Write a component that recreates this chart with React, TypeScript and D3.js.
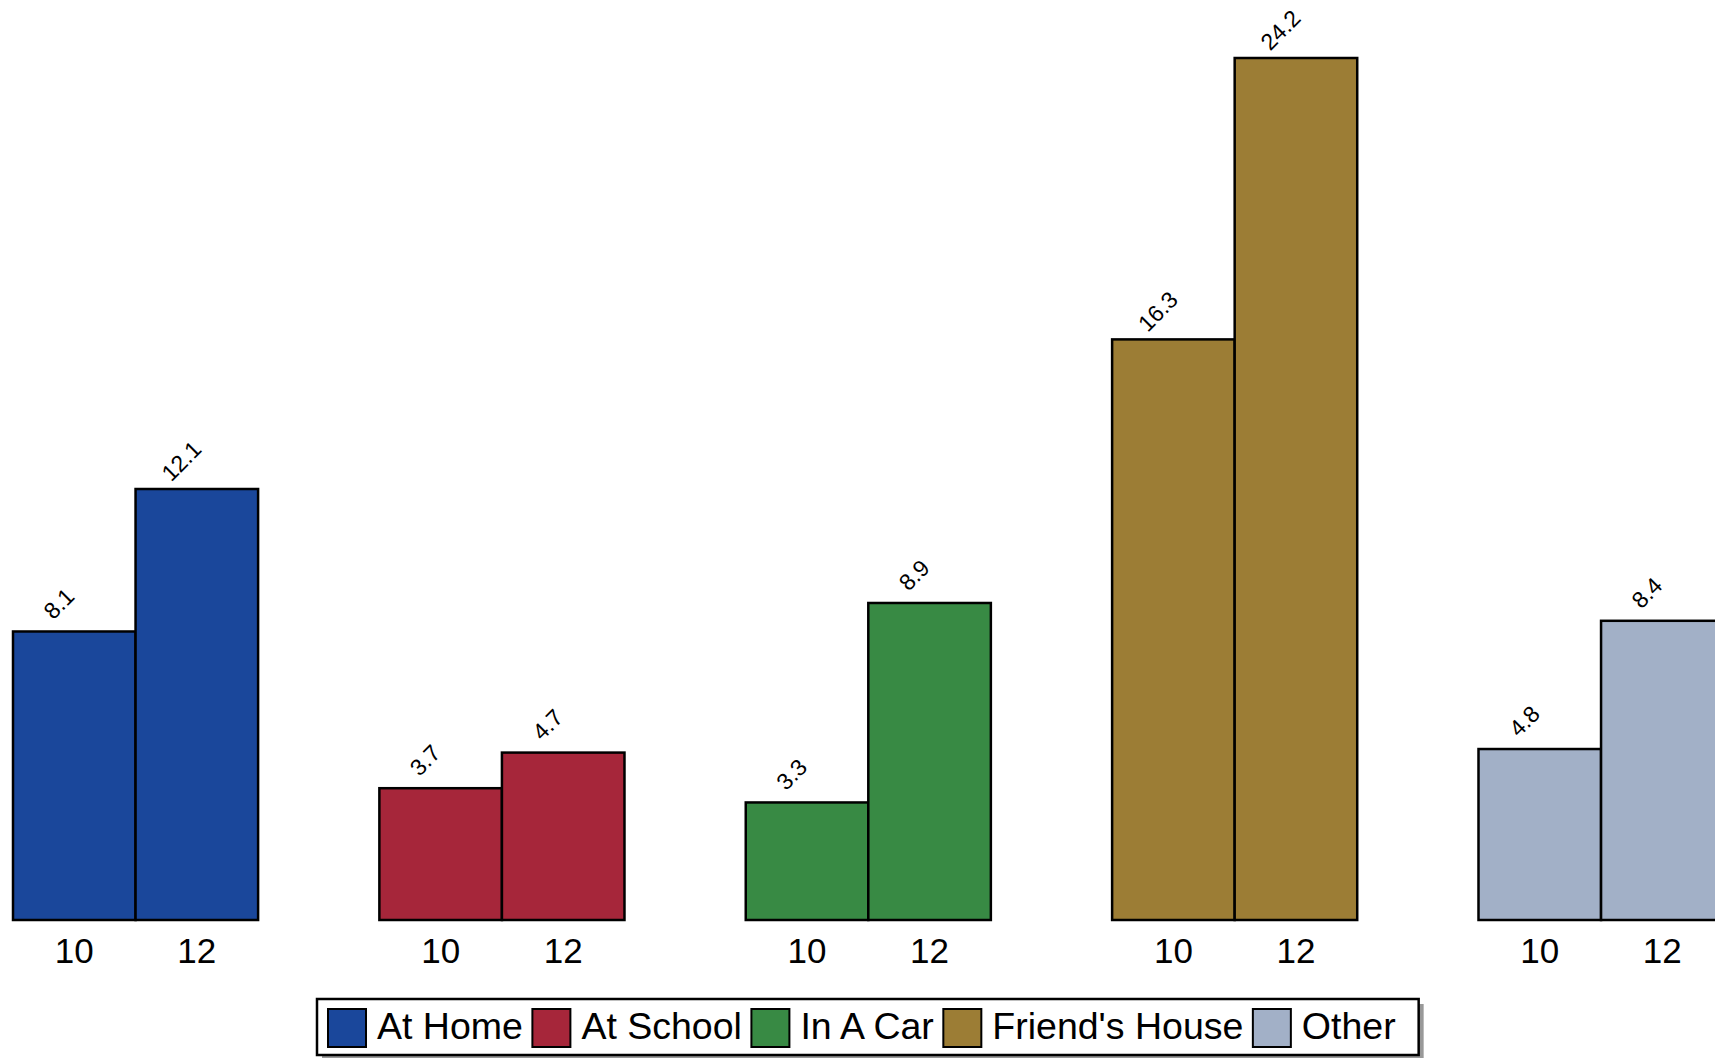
import React, { useEffect, useRef } from "react";
import * as d3 from "d3";

const categories = ["At Home", "At School", "In A Car", "Friend's House", "Other"];
const grades = ["10", "12"];
const grade10 = [8.1, 3.7, 3.3, 16.3, 4.8];
const grade12 = [12.1, 4.7, 8.9, 24.2, 8.4];
const colors = ["#1A479B", "#A6263A", "#388A44", "#9C7D35", "#A2B0C7"];

const W = 1715;
const H = 1058;
const FONT = "'Liberation Sans', Arial, Helvetica, sans-serif";

export default function App() {
  const ref = useRef<SVGSVGElement | null>(null);

  useEffect(() => {
    document.body.style.margin = "0";
    const svg = d3.select(ref.current);
    svg.selectAll("*").remove();

    const x = d3
      .scaleBand<string>()
      .domain(categories)
      .range([13, 1723.6])
      .paddingInner(0.331)
      .paddingOuter(0);
    const xi = d3.scaleBand<string>().domain(grades).range([0, x.bandwidth()]);
    const y = d3.scaleLinear().domain([0, 24.2]).range([920, 58]);

    const data = categories.flatMap((c, i) => [
      { cat: c, grade: "10", value: grade10[i], color: colors[i] },
      { cat: c, grade: "12", value: grade12[i], color: colors[i] },
    ]);

    const g = svg.append("g");
    g.selectAll("rect.bar")
      .data(data)
      .join("rect")
      .attr("class", "bar")
      .attr("x", (d) => (x(d.cat) as number) + (xi(d.grade) as number))
      .attr("y", (d) => y(d.value))
      .attr("width", xi.bandwidth())
      .attr("height", (d) => y(0) - y(d.value))
      .attr("fill", (d) => d.color)
      .attr("stroke", "#000")
      .attr("stroke-width", 2.5);

    g.selectAll("text.val")
      .data(data)
      .join("text")
      .attr("class", "val")
      .attr("transform", (d) => {
        const cx = (x(d.cat) as number) + (xi(d.grade) as number) + xi.bandwidth() / 2 - 15.5;
        const cy = y(d.value) - 28;
        return `translate(${cx},${cy}) rotate(-45)`;
      })
      .attr("text-anchor", "middle")
      .attr("dominant-baseline", "central")
      .attr("font-family", FONT)
      .attr("font-size", 23)
      .attr("fill", "#000")
      .text((d) => d.value.toFixed(1));

    g.selectAll("text.tick")
      .data(data)
      .join("text")
      .attr("class", "tick")
      .attr("x", (d) => (x(d.cat) as number) + (xi(d.grade) as number) + xi.bandwidth() / 2)
      .attr("y", 963)
      .attr("text-anchor", "middle")
      .attr("font-family", FONT)
      .attr("font-size", 35)
      .attr("fill", "#000")
      .text((d) => d.grade);

    // Legend
    const lg = svg.append("g");
    const boxX = 317;
    const boxY = 999;
    const boxH = 56;
    const shadow = lg.append("rect");
    const box = lg.append("rect");
    let cur = boxX + 11;
    categories.forEach((c, i) => {
      lg.append("rect")
        .attr("x", cur)
        .attr("y", 1009)
        .attr("width", 38)
        .attr("height", 38)
        .attr("fill", colors[i])
        .attr("stroke", "#000")
        .attr("stroke-width", 2);
      cur += 38 + 11;
      const t = lg
        .append("text")
        .attr("x", cur)
        .attr("y", 1039)
        .attr("font-family", FONT)
        .attr("font-size", 37.5)
        .attr("fill", "#000")
        .text(c);
      const len = (t.node() as SVGTextElement).getComputedTextLength();
      cur += len + 9.5;
    });
    const boxW = cur - 9.5 + 23 - boxX;
    shadow
      .attr("x", boxX + 5)
      .attr("y", boxY + 5)
      .attr("width", boxW)
      .attr("height", boxH)
      .attr("fill", "#999");
    box
      .attr("x", boxX)
      .attr("y", boxY)
      .attr("width", boxW)
      .attr("height", boxH)
      .attr("fill", "#fff")
      .attr("stroke", "#000")
      .attr("stroke-width", 2.5);
  }, []);

  return (
    <svg
      ref={ref}
      width={W}
      height={H}
      style={{ position: "absolute", left: 0, top: 0, display: "block", background: "#fff" }}
    />
  );
}
